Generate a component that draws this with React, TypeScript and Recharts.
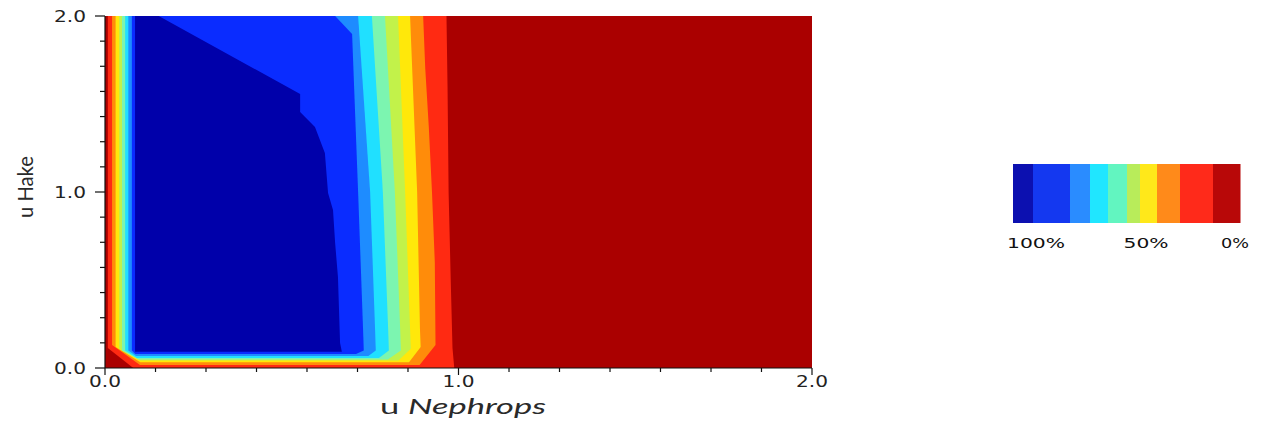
import React from 'react';
import { AreaChart, Area, XAxis, YAxis, Label } from 'recharts';

// Contour levels, from lowest (0%) to highest (100%)
const bandColors = ['#aa0000', '#ff2a12', '#ff8c0a', '#ffe80a', '#c2f24a', '#7cf5b0', '#20e0ff', '#1e8cff', '#0a2cff', '#0000aa'];

// Each row: [u Hake, left edge (u Nephrops), right edge (u Nephrops)] of the region >= level
const band0 = [[0, 0, 2], [2, 0, 2]];
const band1 = [[0, 0.08, 0.988], [0.114, 0.008, 0.983], [0.5, 0.008, 0.978], [1.0, 0.008, 0.972], [1.6, 0.008, 0.969], [2.0, 0.008, 0.966]];
const band2 = [[0.017, 0.099, 0.89], [0.13, 0.02, 0.935], [0.6, 0.02, 0.933], [1.0, 0.02, 0.925], [1.37, 0.02, 0.916], [1.7, 0.02, 0.906], [2.0, 0.02, 0.9]];
const band3 = [[0.032, 0.1, 0.86], [0.12, 0.03, 0.893], [0.22, 0.03, 0.891], [1.0, 0.03, 0.883], [2.0, 0.03, 0.863]];
const band4 = [[0.043, 0.1, 0.83], [0.11, 0.04, 0.865], [0.22, 0.04, 0.863], [1.0, 0.04, 0.849], [2.0, 0.04, 0.829]];
const band5 = [[0.048, 0.095, 0.8], [0.1, 0.048, 0.837], [0.22, 0.048, 0.835], [1.0, 0.048, 0.82], [2.0, 0.048, 0.792]];
const band6 = [[0.057, 0.09, 0.775], [0.1, 0.057, 0.803], [0.22, 0.057, 0.801], [1.0, 0.057, 0.786], [2.0, 0.057, 0.755]];
const band7 = [[0.068, 0.088, 0.745], [0.1, 0.066, 0.766], [0.22, 0.066, 0.764], [1.0, 0.066, 0.75], [2.0, 0.066, 0.716]];
const band8 = [[0.08, 0.086, 0.71], [0.1, 0.076, 0.732], [0.22, 0.076, 0.73], [1.0, 0.076, 0.716], [1.898, 0.076, 0.699], [2.0, 0.076, 0.651]];
const band9 = [[0.093, 0.085, 0.67], [0.142, 0.085, 0.665], [0.517, 0.085, 0.659], [0.71, 0.085, 0.651], [0.898, 0.085, 0.645], [0.994, 0.085, 0.631], [1.222, 0.085, 0.622], [1.369, 0.085, 0.594], [1.455, 0.085, 0.552], [1.557, 0.085, 0.552], [2.0, 0.085, 0.152]];

const bands = [band0, band1, band2, band3, band4, band5, band6, band7, band8, band9];

const axisTicks = [0, 0.1429, 0.2857, 0.4286, 0.5714, 0.7143, 0.8571, 1, 1.1429, 1.2857, 1.4286, 1.5714, 1.7143, 1.8571, 2];
const majorTicks = [0, 1, 2];
const majorTickLabels = ['0.0', '1.0', '2.0'];

const legendLabels = ['100%', '50%', '0%'];
const legendColors = ['#0c10b0', '#1438f0', '#2a8cff', '#20e6ff', '#62f5c0', '#b8ec5a', '#ffe81a', '#ff8a1a', '#ff2a1a', '#b80808'];

// layout constants
const legendWidths = [20, 37, 20, 18, 19, 13, 17, 23, 33, 27];
const legendLabelCenters = [36, 146, 235];
const legendLabelLengths = [58, 45, 28];

const XTick = (props: any) => {
  const { x, y, payload } = props;
  const idx = majorTicks.indexOf(payload.value);
  const major = idx >= 0;
  return (
    <g>
      <line x1={x} x2={x} y1={y} y2={y + (major ? 7 : 4)} stroke="#111" strokeWidth={1.2} />
      {major && (
        <text x={x} y={y + 19} textAnchor="middle" fontFamily="DejaVu Sans" fontSize={15} fill="#222"
          textLength={32} lengthAdjust="spacingAndGlyphs">{majorTickLabels[idx]}</text>
      )}
    </g>
  );
};

const YTick = (props: any) => {
  const { x, y, payload } = props;
  const idx = majorTicks.indexOf(payload.value);
  const major = idx >= 0;
  return (
    <g>
      <line x1={x - (major ? 10 : 5)} x2={x} y1={y} y2={y} stroke="#111" strokeWidth={1.2} />
      {major && (
        <text x={x - 19} y={y + 5.5} textAnchor="end" fontFamily="DejaVu Sans" fontSize={15} fill="#222"
          textLength={32} lengthAdjust="spacingAndGlyphs">{majorTickLabels[idx]}</text>
      )}
    </g>
  );
};

export default function App() {
  let acc = 0;
  const legendRects = legendColors.map((c, i) => {
    const r = <rect key={i} x={13 + acc} y={14} width={legendWidths[i] + 0.5} height={59} fill={c} />;
    acc += legendWidths[i];
    return r;
  });
  return (
    <div style={{ position: 'relative', width: 1270, height: 425, background: '#fff' }}>
      <style>{'body{margin:0}'}</style>
      <AreaChart width={1270} height={425} layout="vertical" margin={{ top: 16, right: 458, bottom: 0, left: 45 }}>
        {bands.map((b, i) => (
          <Area
            key={i}
            data={b.map(([y, lo, hi]) => ({ y, range: [lo, hi] }))}
            dataKey="range"
            type="linear"
            fill={bandColors[i]}
            fillOpacity={1}
            stroke="none"
            isAnimationActive={false}
            dot={false}
            activeDot={false}
          />
        ))}
        <XAxis type="number" domain={[0, 2]} allowDataOverflow ticks={axisTicks} interval={0}
          height={57} tickSize={0} tickMargin={0} tick={<XTick />} axisLine={{ stroke: '#111', strokeWidth: 1.2 }}>
          <Label content={() => (
            <text x={463} y={414} textAnchor="middle" fontFamily="Lato" fontSize={21} fill="#2a2a2a"
              textLength={166} lengthAdjust="spacingAndGlyphs">
              <tspan>u </tspan><tspan fontStyle="italic">Nephrops</tspan>
            </text>
          )} />
        </XAxis>
        <YAxis type="number" dataKey="y" domain={[0, 2]} allowDataOverflow reversed ticks={axisTicks} interval={0}
          width={60} tickSize={0} tickMargin={0} tick={<YTick />} axisLine={{ stroke: '#111', strokeWidth: 1.2 }}>
          <Label content={() => (
            <text x={33} y={187} transform="rotate(-90 33 187)" textAnchor="middle" fontFamily="Lato" fontSize={21}
              fill="#2a2a2a" textLength={62} lengthAdjust="spacingAndGlyphs">u Hake</text>
          )} />
        </YAxis>
      </AreaChart>
      <svg width={270} height={110} style={{ position: 'absolute', left: 1000, top: 150 }}>
        {legendRects}
        {legendLabels.map((t, i) => (
          <text key={t} x={legendLabelCenters[i]} y={98} textAnchor="middle" fontFamily="DejaVu Sans" fontSize={14}
            fill="#111" textLength={legendLabelLengths[i]} lengthAdjust="spacingAndGlyphs">{t}</text>
        ))}
      </svg>
    </div>
  );
}
